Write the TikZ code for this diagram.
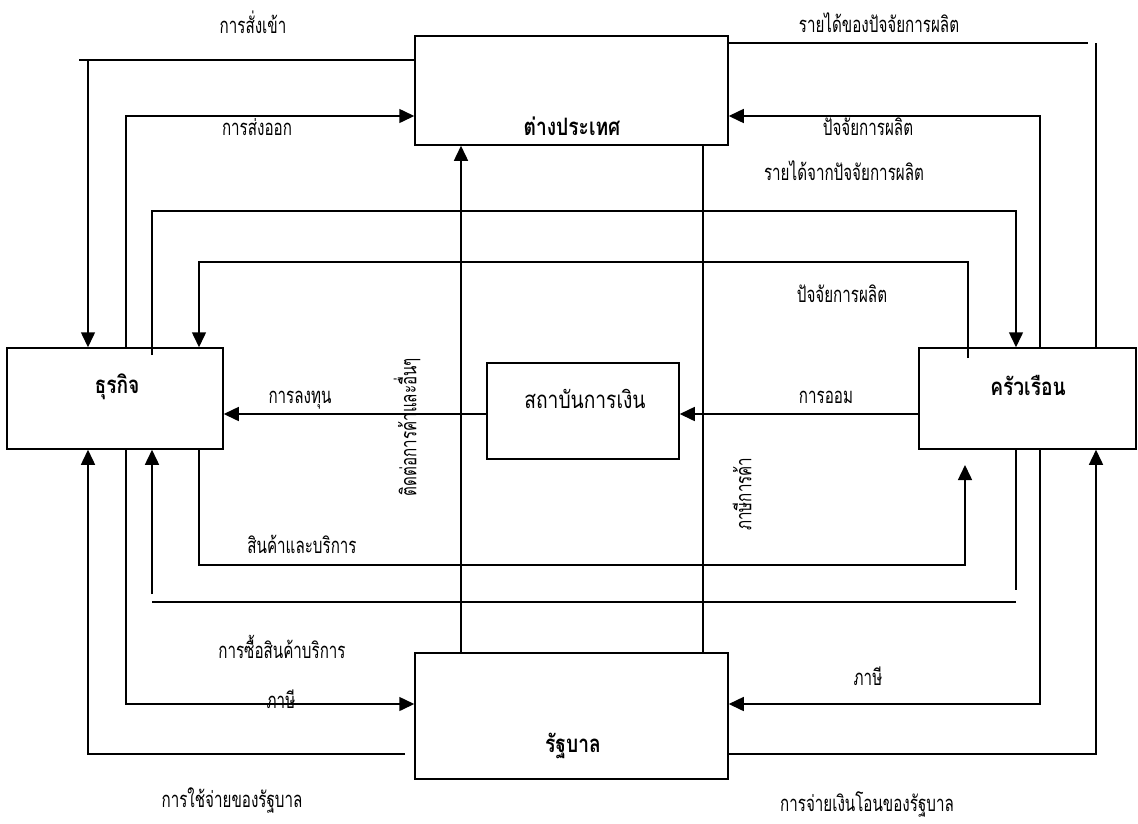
\documentclass[tikz,border=0pt]{standalone}
\usepackage{fontspec}
\usetikzlibrary{arrows.meta}
\newfontfamily\thaifont[Script=Thai,FakeStretch=0.69]{Loma}
\newfontfamily\thaititle[Script=Thai,FakeStretch=0.8]{Loma}
\begin{document}
\begin{tikzpicture}[x=1pt,y=-1pt,
  line/.style={line width=1.5pt},
  arr/.style={line width=1.5pt,-{Triangle[length=15pt,width=14pt]}},
  box/.style={draw,line width=1.5pt,inner sep=0pt},
  lab/.style={anchor=base,inner sep=0pt,font=\thaifont\fontsize{22}{24}\selectfont},
  title/.style={anchor=base,inner sep=0pt,font=\thaititle\bfseries\fontsize{24}{26}\selectfont},
  vlab/.style={inner sep=0pt,rotate=90,font=\thaifont\fontsize{22}{24}\selectfont}]
\useasboundingbox (0,0) rectangle (1138,823);
% boxes
\node[box,minimum width=313pt,minimum height=109pt] (f) at (571.5,90.5) {};
\node[box,minimum width=216pt,minimum height=101pt] (b) at (115,398.5) {};
\node[box,minimum width=217pt,minimum height=101pt] (h) at (1027.5,398.5) {};
\node[box,minimum width=313pt,minimum height=126pt] (g) at (571.5,716) {};
\node[box,minimum width=192pt,minimum height=96pt] (fi) at (583,411) {};
% titles
\node[title] (ft) at (572,135) {ต่างประเทศ};
\node[title] (bt) at (117,393) {ธุรกิจ};
\node[title] (ht) at (1028,395) {ครัวเรือน};
\node[title] (gt) at (573,752) {รัฐบาล};
\node[title,font=\thaititle\fontsize{24}{26}\selectfont] (fit) at (585,408) {สถาบันการเงิน};
% free-end coordinates
\coordinate (imA) at (79,60);
\coordinate (imB) at (88,60);
\coordinate (inA) at (1088,43);
\coordinate (inB) at (1096,43);
\coordinate (i2s) at (152,355);
\coordinate (i2c) at (1016,211);
\coordinate (p2s) at (968,358);
\coordinate (p2c) at (199,262);
\coordinate (gsA) at (965,565);
\coordinate (gsB) at (965,465);
\coordinate (puA) at (1016,590);
\coordinate (puB) at (1016,602);
\coordinate (puC) at (152,602);
\coordinate (puD) at (152,594);
\coordinate (spA) at (405,754);
% connectors
\draw[line] (f.west |- imA) -- (imA);
\draw[arr] (imB) -- (b.north -| imB);
\draw[arr] (b.north -| 126,0) |- (f.west |- 0,116);
\draw[line] (f.east |- inA) -- (inA);
\draw[line] (inB) -- (h.north -| inB);
\draw[arr] (h.north -| 1040,0) |- (f.east |- 0,116);
\draw[arr] (i2s) |- (i2c) -- (h.north -| i2c);
\draw[arr] (p2s) |- (p2c) -- (b.north -| p2c);
\draw[arr] (fi.west |- 0,414) -- (b.east |- 0,414);
\draw[arr] (h.west |- 0,414) -- (fi.east |- 0,414);
\draw[arr] (g.north -| 461,0) -- (f.south -| 461,0);
\draw[line] (f.south -| 703,0) -- (g.north -| 703,0);
\draw[arr] (b.south -| 199,0) |- (gsA) -- (gsB);
\draw[line] (h.south -| puA) -- (puA);
\draw[line] (puB) -- (puC);
\draw[arr] (puD) -- (b.south -| puD);
\draw[arr] (b.south -| 126,0) |- (g.west |- 0,704);
\draw[arr] (spA) -| (b.south -| 88,0);
\draw[arr] (g.east |- 0,754) -| (h.south -| 1096,0);
\draw[arr] (h.south -| 1040,0) |- (g.east |- 0,704);
% labels
\node[lab] (l1) at (253,33) {การสั่งเข้า};
\node[lab] (l2) at (257,135) {การส่งออก};
\node[lab] (l3) at (879,32) {รายได้ของปัจจัยการผลิต};
\node[lab] (l4) at (868,135) {ปัจจัยการผลิต};
\node[lab] (l5) at (844,180) {รายได้จากปัจจัยการผลิต};
\node[lab] (l6) at (842,302) {ปัจจัยการผลิต};
\node[lab] (l7) at (300,403) {การลงทุน};
\node[lab] (l8) at (826,403) {การออม};
\node[lab] (l9) at (302,553) {สินค้าและบริการ};
\node[lab] (l10) at (282,658) {การซื้อสินค้าบริการ};
\node[lab] (l11) at (281,708) {ภาษี};
\node[lab] (l12) at (232,807) {การใช้จ่ายของรัฐบาล};
\node[lab] (l13) at (868,685) {ภาษี};
\node[lab] (l14) at (867,811) {การจ่ายเงินโอนของรัฐบาล};
\node[vlab] (v1) at (407,427) {ติดต่อการค้าและอื่นๆ};
\node[vlab] (v2) at (742,494) {ภาษีการค้า};
\end{tikzpicture}
\end{document}
